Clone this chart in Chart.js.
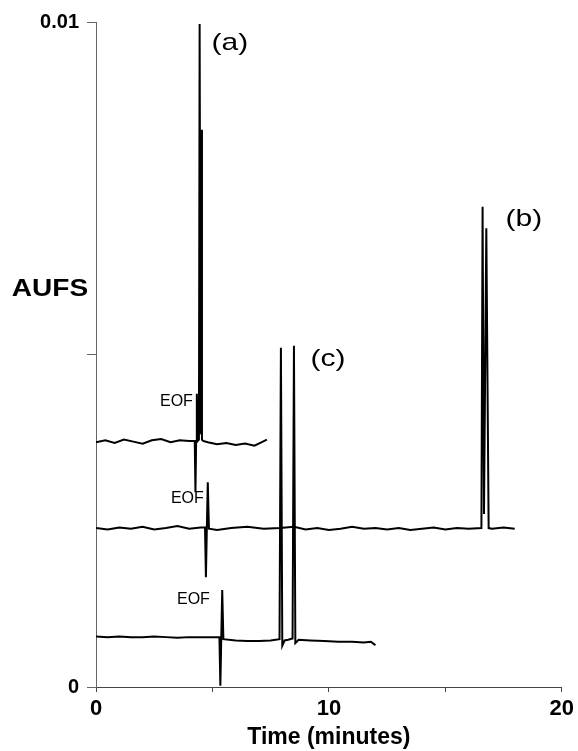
<!DOCTYPE html>
<html lang="en">
<head>
  <meta charset="UTF-8">
  <title>Electropherograms (a), (b), (c)</title>
  <script src="https://cdn.jsdelivr.net/npm/chart.js"></script>
  <style>
    body { margin: 0; background: #fff; }
    #wrap { width: 578px; height: 751px; }
  </style>
</head>
<body>
  <div id="wrap"><canvas id="chart" width="578" height="751"></canvas></div>
  <script>
    // trace (a) - time (min) / absorbance
    const aTime = [0, 0.4, 0.8, 1.2, 1.6, 2.0, 2.4, 2.8, 3.2, 3.6, 4.0, 4.24, 4.27, 4.30, 4.33, 4.37, 4.42, 4.45, 4.49, 4.52, 4.55, 4.60, 4.8, 5.2, 5.6, 6.0, 6.4, 6.8, 7.1, 7.34];
    const aVal  = [0.00368, 0.00371, 0.00367, 0.00372, 0.00369, 0.00366, 0.00371, 0.00373, 0.00368, 0.00371, 0.0037, 0.0037, 0.00293, 0.0037, 0.00441, 0.0037, 0.00372, 0.00997, 0.0038, 0.00838, 0.00372, 0.0037, 0.00368, 0.00365, 0.00367, 0.00364, 0.00366, 0.00363, 0.00368, 0.00372];

    // trace (b)
    const bTime = [0, 0.5, 1.0, 1.5, 2.0, 2.5, 3.0, 3.5, 4.0, 4.5, 4.68, 4.72, 4.76, 4.80, 4.85, 5.2, 5.8, 6.5, 7.2, 7.9, 8.5, 9.0, 9.5, 10.0, 10.5, 11.0, 11.5, 12.0, 12.5, 13.0, 13.5, 14.0, 14.5, 15.0, 15.5, 16.0, 16.55, 16.60, 16.66, 16.76, 16.86, 17.0, 17.5, 17.98];
    const bVal  = [0.00239, 0.00237, 0.0024, 0.00238, 0.00241, 0.00237, 0.00239, 0.00242, 0.00238, 0.0024, 0.0024, 0.00165, 0.0024, 0.00308, 0.00238, 0.00236, 0.00239, 0.00241, 0.00238, 0.00239, 0.00241, 0.00237, 0.00239, 0.00236, 0.00238, 0.00241, 0.00238, 0.00239, 0.00237, 0.00239, 0.00236, 0.00238, 0.0024, 0.00237, 0.00239, 0.00238, 0.00239, 0.00722, 0.0026, 0.0069, 0.00239, 0.00238, 0.0024, 0.00238];

    // trace (c)
    const cTime = [0, 0.5, 1.0, 1.5, 2.0, 2.5, 3.0, 3.5, 4.0, 4.5, 5.0, 5.30, 5.34, 5.38, 5.42, 5.47, 6.0, 6.5, 7.0, 7.5, 7.88, 7.94, 8.00, 8.10, 8.25, 8.44, 8.50, 8.56, 8.70, 9.2, 9.8, 10.4, 11.0, 11.5, 11.8, 12.0];
    const cVal  = [0.00076, 0.00075, 0.00076, 0.00075, 0.00075, 0.00076, 0.00075, 0.00074, 0.00075, 0.00075, 0.00075, 0.00075, 0.00002, 0.00075, 0.00146, 0.00072, 0.0007, 0.00069, 0.00069, 0.0007, 0.00072, 0.0051, 0.00062, 0.0007, 0.00071, 0.00073, 0.00513, 0.00066, 0.00071, 0.0007, 0.00069, 0.00068, 0.00068, 0.00067, 0.00068, 0.00063];

    // axis ticks
    const xTicks = [0, 10, 20];
    const yTicks = ['0', '0.01'];

    const toPoints = (t, v) => t.map((x, i) => ({ x, y: v[i] }));

    // text labels placed in data coordinates
    const notes = [
      { text: '(a)', x: 5.75, y: 0.00968, font: '400 24px "Liberation Sans", Arial, sans-serif', align: 'center', sx: 1.25 },
      { text: '(b)', x: 18.37, y: 0.00703, font: '400 24px "Liberation Sans", Arial, sans-serif', align: 'center', sx: 1.25 },
      { text: '(c)', x: 9.96, y: 0.00492, font: '400 24px "Liberation Sans", Arial, sans-serif', align: 'center', sx: 1.25 },
      { text: 'EOF', x: 4.16, y: 0.00429, font: '400 16px "Liberation Sans", Arial, sans-serif', align: 'right', sx: 1 },
      { text: 'EOF', x: 4.63, y: 0.00284, font: '400 16px "Liberation Sans", Arial, sans-serif', align: 'right', sx: 1 },
      { text: 'EOF', x: 4.89, y: 0.00131, font: '400 16px "Liberation Sans", Arial, sans-serif', align: 'right', sx: 1 }
    ];

    const notePlugin = {
      id: 'notes',
      afterDraw(chart) {
        const { ctx, scales: { x, y } } = chart;
        ctx.save();
        ctx.fillStyle = '#000';
        ctx.textBaseline = 'middle';
        notes.forEach(n => {
          const px = x.getPixelForValue(n.x);
          const py = y.getPixelForValue(n.y);
          ctx.save();
          ctx.translate(px, py);
          ctx.scale(n.sx, 1);
          ctx.font = n.font;
          ctx.textAlign = n.align;
          ctx.fillText(n.text, 0, 0);
          ctx.restore();
        });
        // horizontal y-axis title
        ctx.translate(50, 290);
        ctx.scale(1.22, 1);
        ctx.font = 'bold 23px "Liberation Sans", Arial, sans-serif';
        ctx.textAlign = 'center';
        ctx.fillText('AUFS', 0, 0);
        ctx.restore();
      }
    };

    const line = { borderColor: '#000', borderWidth: 2, pointRadius: 0, tension: 0, fill: false };

    new Chart(document.getElementById('chart'), {
      type: 'line',
      data: {
        datasets: [
          { label: '(a)', data: toPoints(aTime, aVal), ...line },
          { label: '(b)', data: toPoints(bTime, bVal), ...line },
          { label: '(c)', data: toPoints(cTime, cVal), ...line }
        ]
      },
      options: {
        responsive: false,
        animation: false,
        layout: { padding: { top: 22, right: 16, left: 0, bottom: 0 } },
        plugins: { legend: { display: false }, tooltip: { enabled: false } },
        scales: {
          x: {
            type: 'linear',
            min: 0,
            max: 20,
            afterFit: s => { s.height = 64; },
            border: { color: '#444', width: 1 },
            grid: { drawOnChartArea: false, drawTicks: true, tickLength: 5, color: '#444' },
            ticks: {
              stepSize: 5,
              padding: 4,
              color: '#000',
              font: { family: '"Liberation Sans", Arial, sans-serif', size: 22, weight: 'bold' },
              callback: v => xTicks.includes(v) ? String(v) : ''
            },
            title: {
              display: true,
              text: 'Time (minutes)',
              color: '#000',
              padding: { top: 0, bottom: 0 },
              font: { family: '"Liberation Sans", Arial, sans-serif', size: 23, weight: 'bold' }
            }
          },
          y: {
            min: 0,
            max: 0.01,
            afterFit: s => { s.width = 96; },
            border: { color: '#666', width: 1, dash: [7, 3] },
            grid: { drawOnChartArea: false, drawTicks: true, tickLength: 9, color: '#666' },
            ticks: {
              stepSize: 0.005,
              padding: 8,
              color: '#000',
              font: { family: '"Liberation Sans", Arial, sans-serif', size: 20, weight: 'bold' },
              callback: v => v < 1e-9 ? yTicks[0] : (v > 0.0099 ? yTicks[1] : '')
            }
          }
        }
      },
      plugins: [notePlugin]
    });
  </script>
</body>
</html>
